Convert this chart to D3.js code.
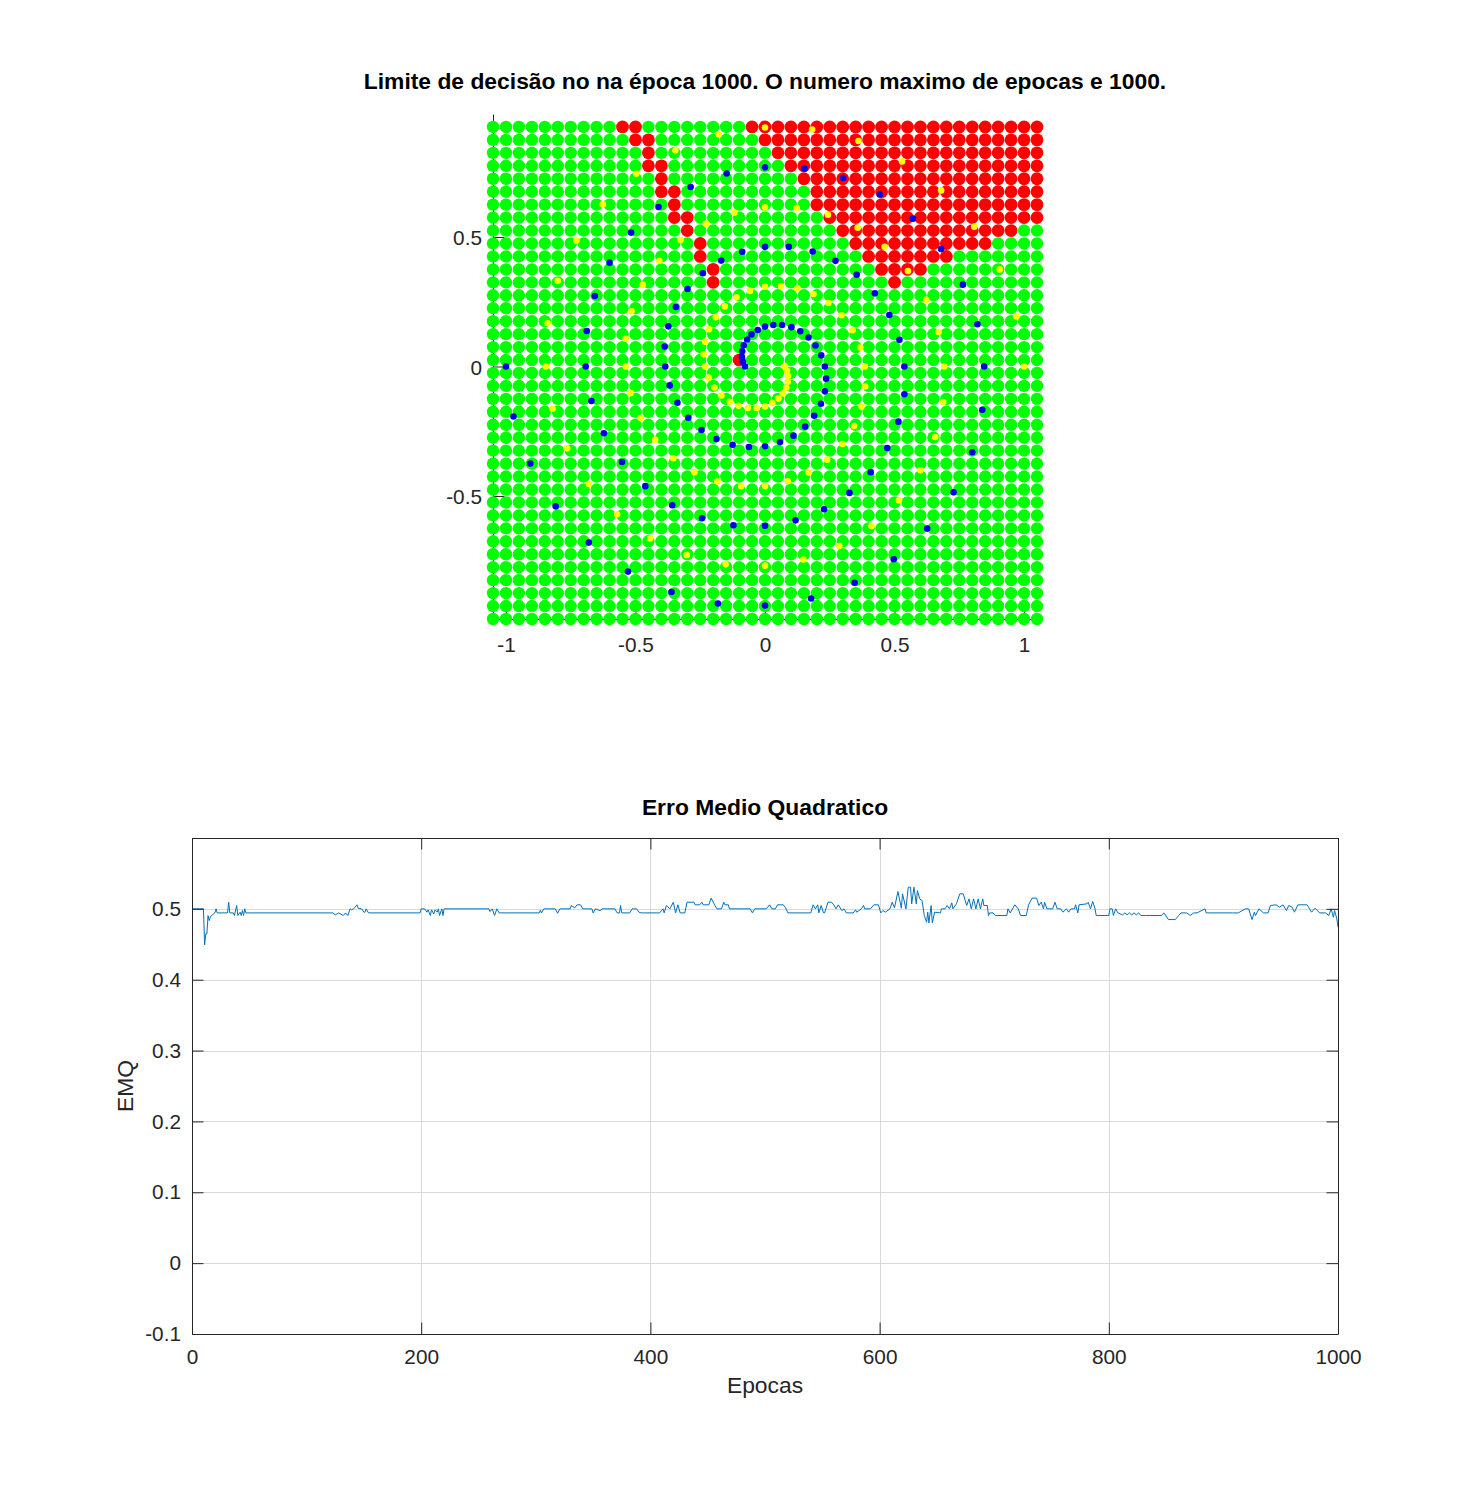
<!DOCTYPE html>
<html>
<head>
<meta charset="utf-8">
<script src="https://cdn.jsdelivr.net/npm/d3@7"></script>
<style>
  body { margin: 0; background: #fff; }
  text { font-family: "Liberation Sans", Arial, sans-serif; }
</style>
</head>
<body>
<div id="chart"></div>
<script>
// decision grid, columns left to right and rows top to bottom
const xGrid = [-1.05,-1,-0.95,-0.9,-0.85,-0.8,-0.75,-0.7,-0.65,-0.6,-0.55,-0.5,-0.45,-0.4,-0.35,-0.3,-0.25,-0.2,-0.15,-0.1,-0.05,0,
  0.05,0.1,0.15,0.2,0.25,0.3,0.35,0.4,0.45,0.5,0.55,0.6,0.65,0.7,0.75,0.8,0.85,0.9,0.95,1,1.05];
const yGrid = [0.925,0.875,0.825,0.775,0.725,0.675,0.625,0.575,0.525,0.475,0.425,0.375,0.325,0.275,0.225,0.175,0.125,0.075,0.025,
  -0.025,-0.075,-0.125,-0.175,-0.225,-0.275,-0.325,-0.375,-0.425,-0.475,-0.525,-0.575,-0.625,-0.675,-0.725,-0.775,-0.825,-0.875,-0.925,-0.975];
// [row, first column, last column] of the cells classified red, everything else is green
const redRuns = [[0,10,11],[0,20,42],[1,11,12],[1,21,42],[2,12,12],[2,22,42],[3,12,13],[3,23,42],[4,13,13],[4,24,42],
  [5,13,14],[5,25,42],[6,14,14],[6,25,42],[7,14,15],[7,26,42],[8,15,15],[8,27,40],[9,16,16],[9,28,38],[10,16,16],[10,29,35],
  [11,17,17],[11,30,33],[12,17,17],[12,31,31],[18,19,19]];

// two spirals
const blueX = [-1,-0.971,-0.906,-0.808,-0.68,-0.529,-0.361,-0.182,0,0.178,0.346,0.497,0.626,0.728,0.8,0.839,0.846,0.82,0.764,0.68,0.571,0.443,0.302,0.152,0,
  -0.148,-0.287,-0.411,-0.517,-0.6,-0.657,-0.688,-0.692,-0.67,-0.622,-0.552,-0.462,-0.358,-0.243,-0.122,0,0.118,0.228,0.326,0.408,0.472,0.515,0.538,0.538,
  0.519,0.48,0.424,0.354,0.272,0.184,0.092,0,-0.088,-0.169,-0.24,-0.299,-0.344,-0.373,-0.387,-0.385,-0.368,-0.338,-0.296,-0.245,-0.187,-0.125,-0.062,0,
  0.058,0.11,0.155,0.19,0.216,0.231,0.236,0.231,0.217,0.195,0.168,0.136,0.102,0.066,0.032,0,-0.028,-0.052,-0.069,-0.082,-0.088,-0.089,-0.085,-0.077];
const blueY = [0,-0.193,-0.375,-0.54,-0.68,-0.792,-0.871,-0.915,-0.923,-0.896,-0.835,-0.744,-0.626,-0.486,-0.331,-0.167,0,0.163,0.316,0.454,0.571,0.664,0.728,0.764,0.769,
  0.745,0.693,0.616,0.517,0.401,0.272,0.137,0,-0.133,-0.258,-0.369,-0.462,-0.536,-0.586,-0.613,-0.615,-0.594,-0.551,-0.488,-0.408,-0.315,-0.213,-0.107,0,
  0.103,0.199,0.283,0.354,0.408,0.444,0.462,0.462,0.443,0.409,0.36,0.299,0.23,0.155,0.077,0,-0.073,-0.14,-0.198,-0.245,-0.28,-0.302,-0.311,-0.308,
  -0.292,-0.267,-0.232,-0.19,-0.144,-0.096,-0.047,0,0.043,0.081,0.112,0.136,0.152,0.16,0.16,0.154,0.141,0.124,0.104,0.082,0.059,0.037,0.017,0];
const yellowX = [1,0.971,0.906,0.808,0.68,0.529,0.361,0.182,0,-0.178,-0.346,-0.497,-0.626,-0.728,-0.8,-0.839,-0.846,-0.82,-0.764,-0.68,-0.571,-0.443,-0.302,-0.152,0,
  0.148,0.287,0.411,0.517,0.6,0.657,0.688,0.692,0.67,0.622,0.552,0.462,0.358,0.243,0.122,0,-0.118,-0.228,-0.326,-0.408,-0.472,-0.515,-0.538,-0.538,
  -0.519,-0.48,-0.424,-0.354,-0.272,-0.184,-0.092,0,0.088,0.169,0.24,0.299,0.344,0.373,0.387,0.385,0.368,0.338,0.296,0.245,0.187,0.125,0.062,0,
  -0.058,-0.11,-0.155,-0.19,-0.216,-0.231,-0.236,-0.231,-0.217,-0.195,-0.168,-0.136,-0.102,-0.066,-0.032,0,0.028,0.052,0.069,0.082,0.088,0.089,0.085,0.077];
const yellowY = [0,0.193,0.375,0.54,0.68,0.792,0.871,0.915,0.923,0.896,0.835,0.744,0.626,0.486,0.331,0.167,0,-0.163,-0.316,-0.454,-0.571,-0.664,-0.728,-0.764,-0.769,
  -0.745,-0.693,-0.616,-0.517,-0.401,-0.272,-0.137,0,0.133,0.258,0.369,0.462,0.536,0.586,0.613,0.615,0.594,0.551,0.488,0.408,0.315,0.213,0.107,0,
  -0.103,-0.199,-0.283,-0.354,-0.408,-0.444,-0.462,-0.462,-0.443,-0.409,-0.36,-0.299,-0.23,-0.155,-0.077,0,0.073,0.14,0.198,0.245,0.28,0.302,0.311,0.308,
  0.292,0.267,0.232,0.19,0.144,0.096,0.047,0,-0.043,-0.081,-0.112,-0.136,-0.152,-0.16,-0.16,-0.154,-0.141,-0.124,-0.104,-0.082,-0.059,-0.037,-0.017,0];

// error curve, only the epochs where the line changes direction
const emqEpochs = [0,10,11,12,13,14,15,16,17,19,20,21,22,31,32,33,36,37,39,40,42,43,44,45,46,47,
  123,125,128,132,134,136,138,139,141,144,145,148,150,151,152,154,199,200,203,205,206,208,209,211,212,214,215,216,218,219,220,
  259,260,262,264,266,268,303,304,305,307,317,319,321,330,331,334,336,339,341,349,350,352,356,358,369,371,373,374,375,382,384,388,390,392,
  408,411,412,414,417,420,422,424,426,430,432,438,439,443,445,446,451,453,456,458,462,464,465,468,469,487,489,491,501,504,506,509,
  511,516,518,520,540,542,544,546,547,549,551,552,555,558,560,562,564,567,569,571,577,579,580,584,586,587,592,595,599,601,603,605,609,
  611,613,616,619,620,623,625,627,628,630,632,633,635,637,639,641,642,643,645,646,648,653,654,657,659,661,663,664,667,670,673,676,678,680,
  682,684,686,688,690,691,694,695,696,699,701,711,712,714,718,721,723,728,730,733,737,739,741,743,744,746,751,753,755,758,760,763,765,767,770,
  771,773,774,781,782,784,786,788,789,800,801,803,804,806,808,812,814,816,818,820,822,824,826,828,832,846,848,852,858,861,863,868,871,874,877,
  884,885,908,913,919,922,925,927,928,931,935,939,941,946,949,952,955,957,960,962,965,973,977,980,984,989,992,994,996,997,999,1000];
const emqValues = [0.5,0.5,0.449,0.4647,0.4647,0.4906,0.4835,0.4882,0.4906,0.4929,0.4943,0.5,0.4943,0.4943,0.5094,0.4943,0.4943,0.4906,0.5047,0.4906,0.4953,0.4906,0.4976,0.4906,0.5,0.4943,
  0.4943,0.4915,0.4943,0.4906,0.4943,0.4906,0.5,0.4986,0.5,0.5057,0.5009,0.5,0.4953,0.4953,0.5,0.4943,0.4943,0.5,0.5,0.4953,0.4986,0.4906,0.4986,0.4929,0.4986,0.4953,0.5,0.4906,0.5,0.4906,0.5,
  0.5,0.4962,0.5,0.4906,0.5,0.4943,0.4943,0.4981,0.4943,0.5,0.5,0.4938,0.5,0.5,0.5047,0.5014,0.5057,0.5057,0.5,0.5,0.4943,0.5,0.4976,0.5,0.5,0.4943,0.4943,0.5047,0.4943,0.4943,0.5,0.5,0.4953,0.4943,
  0.4943,0.5,0.4943,0.5047,0.5,0.5094,0.4943,0.5057,0.4943,0.4943,0.5094,0.5094,0.5057,0.5057,0.5094,0.5057,0.5057,0.5151,0.5057,0.5,0.5,0.5094,0.5057,0.5057,0.5,0.5,0.4943,0.5,0.5,0.5057,0.5,0.5,
  0.5057,0.5057,0.5014,0.4943,0.4943,0.5057,0.5,0.5057,0.4943,0.5047,0.4943,0.4943,0.5094,0.5094,0.5057,0.5,0.5057,0.4976,0.5,0.4943,0.4943,0.4986,0.4953,0.5,0.5047,0.5,0.5,0.5057,0.5057,0.4943,0.4976,0.4953,0.5,
  0.5094,0.5014,0.5245,0.5009,0.5212,0.5,0.5306,0.5306,0.5071,0.5306,0.5071,0.5259,0.5141,0.5118,0.4906,0.4812,0.4953,0.4802,0.5047,0.4802,0.4953,0.4943,0.5,0.5,0.5047,0.5,0.5085,0.5,0.5071,0.5212,0.5212,0.5047,0.5141,0.5,
  0.5141,0.5,0.5141,0.5,0.5141,0.5047,0.5047,0.4906,0.4943,0.4943,0.4906,0.4906,0.5,0.4943,0.5057,0.5,0.4906,0.4906,0.5057,0.5151,0.5151,0.5047,0.5094,0.5,0.5094,0.5,0.5,0.5094,0.5,0.5,0.4953,0.5,0.4953,0.5,0.5,
  0.5057,0.4943,0.5057,0.5071,0.5094,0.5,0.5104,0.5,0.4906,0.4906,0.5,0.5,0.4906,0.5,0.4943,0.4915,0.4943,0.4915,0.4943,0.4915,0.4943,0.4915,0.4943,0.4906,0.4906,0.4906,0.4943,0.4849,0.4849,0.4906,0.4943,0.4943,0.4906,0.4943,0.4943,
  0.5,0.4943,0.4943,0.4943,0.5,0.5,0.4849,0.4953,0.4906,0.5,0.4943,0.4943,0.5047,0.5057,0.5024,0.5057,0.4976,0.5047,0.5024,0.4953,0.5057,0.5057,0.4953,0.5009,0.4943,0.4943,0.4906,0.5,0.4882,0.4976,0.4859,0.4741];

const topXTicks = [-1,-0.5,0,0.5,1];
const topYTicks = [-0.5,0,0.5];
const bottomXTicks = [0,200,400,600,800,1000];
const bottomYTicks = [-0.1,0,0.1,0.2,0.3,0.4,0.5];

const INK = "#262626";
const TICK_FONT = 20.8;
const LABEL_FONT = 22.85;

const svg = d3.select("#chart").append("svg")
  .attr("width", 1479)
  .attr("height", 1498);

drawDecisionPlot();
drawErrorPlot();

function styleAxis(g) {
  g.selectAll("path, line").attr("stroke", INK);
  g.selectAll("text").attr("font-size", TICK_FONT).attr("fill", INK);
}

function drawDecisionPlot() {
  const x = d3.scaleLinear().domain([-1.05, 1.05]).range([493, 1037]);
  const y = d3.scaleLinear().domain([-0.975, 0.975]).range([619, 114]);

  // axes sit under the markers, only the bits in the gaps show
  svg.append("g")
    .attr("transform", "translate(0,619)")
    .call(d3.axisBottom(x).tickValues(topXTicks).tickFormat(String).tickSizeOuter(0).tickSizeInner(-11.5).tickPadding(18))
    .call(styleAxis);
  svg.append("g")
    .attr("transform", "translate(493,0)")
    .call(d3.axisLeft(y).tickValues(topYTicks).tickFormat(String).tickSizeOuter(0).tickSizeInner(-11.5).tickPadding(11))
    .call(styleAxis)
    .selectAll("text").attr("dy", "0.38em");

  const cells = [];
  yGrid.forEach(function(gy, r) {
    xGrid.forEach(function(gx, c) {
      const red = redRuns.some(function(run) { return run[0] === r && c >= run[1] && c <= run[2]; });
      cells.push({ x: gx, y: gy, red: red });
    });
  });

  svg.append("g").selectAll("circle")
    .data(cells)
    .join("circle")
    .attr("cx", function(d) { return x(d.x); })
    .attr("cy", function(d) { return y(d.y); })
    .attr("r", function(d) { return d.red ? 6.4 : 6.2; })
    .attr("fill", function(d) { return d.red ? "#ff0000" : "#00ff00"; });

  svg.append("g").selectAll("circle")
    .data(yellowX)
    .join("circle")
    .attr("cx", function(d) { return x(d); })
    .attr("cy", function(d, i) { return y(yellowY[i]); })
    .attr("r", 3.3)
    .attr("fill", "#ffff00");

  svg.append("g").selectAll("circle")
    .data(blueX)
    .join("circle")
    .attr("cx", function(d) { return x(d); })
    .attr("cy", function(d, i) { return y(blueY[i]); })
    .attr("r", 3.3)
    .attr("fill", "#0000e6");

  svg.append("text")
    .attr("x", 765)
    .attr("y", 89)
    .attr("text-anchor", "middle")
    .attr("font-size", LABEL_FONT)
    .attr("font-weight", "bold")
    .attr("fill", "#000")
    .text("Limite de decisão no na época 1000. O numero maximo de epocas e 1000.");
}

function drawErrorPlot() {
  const left = 192, right = 1338, top = 838, bottom = 1334;
  const x = d3.scaleLinear().domain([0, 1000]).range([left, right]);
  const y = d3.scaleLinear().domain([-0.1, 0.6]).range([bottom, top]);

  // grid
  const grid = svg.append("g").attr("stroke", "#d9d9d9").attr("stroke-width", 1);
  grid.selectAll("line.gx")
    .data(bottomXTicks)
    .join("line")
    .attr("class", "gx")
    .attr("x1", function(d) { return Math.round(x(d)) + 0.5; })
    .attr("x2", function(d) { return Math.round(x(d)) + 0.5; })
    .attr("y1", top)
    .attr("y2", bottom);
  grid.selectAll("line.gy")
    .data(bottomYTicks)
    .join("line")
    .attr("class", "gy")
    .attr("x1", left)
    .attr("x2", right)
    .attr("y1", function(d) { return Math.round(y(d)) + 0.5; })
    .attr("y2", function(d) { return Math.round(y(d)) + 0.5; });

  const line = d3.line()
    .x(function(d) { return x(d); })
    .y(function(d, i) { return y(emqValues[i]); });
  svg.append("path")
    .attr("d", line(emqEpochs))
    .attr("fill", "none")
    .attr("stroke", "#0072bd")
    .attr("stroke-width", 1);

  svg.append("g")
    .attr("transform", "translate(0," + bottom + ")")
    .call(d3.axisBottom(x).tickValues(bottomXTicks).tickFormat(String).tickSizeOuter(0).tickSizeInner(-11.5).tickPadding(15))
    .call(styleAxis);
  svg.append("g")
    .attr("transform", "translate(0," + top + ")")
    .call(d3.axisTop(x).tickValues(bottomXTicks).tickFormat("").tickSizeOuter(0).tickSizeInner(-11.5))
    .call(styleAxis);
  svg.append("g")
    .attr("transform", "translate(" + left + ",0)")
    .call(d3.axisLeft(y).tickValues(bottomYTicks).tickFormat(String).tickSizeOuter(0).tickSizeInner(-11.5).tickPadding(11))
    .call(styleAxis)
    .selectAll("text").attr("dy", "0.32em");
  svg.append("g")
    .attr("transform", "translate(" + right + ",0)")
    .call(d3.axisRight(y).tickValues(bottomYTicks).tickFormat("").tickSizeOuter(0).tickSizeInner(-11.5))
    .call(styleAxis);

  svg.append("text")
    .attr("x", 765)
    .attr("y", 815)
    .attr("text-anchor", "middle")
    .attr("font-size", LABEL_FONT)
    .attr("font-weight", "bold")
    .attr("fill", "#000")
    .text("Erro Medio Quadratico");

  svg.append("text")
    .attr("x", 765)
    .attr("y", 1393)
    .attr("text-anchor", "middle")
    .attr("font-size", LABEL_FONT)
    .attr("fill", INK)
    .text("Epocas");

  svg.append("text")
    .attr("transform", "translate(133,1086) rotate(-90)")
    .attr("text-anchor", "middle")
    .attr("font-size", LABEL_FONT)
    .attr("fill", INK)
    .text("EMQ");
}
</script>
</body>
</html>
